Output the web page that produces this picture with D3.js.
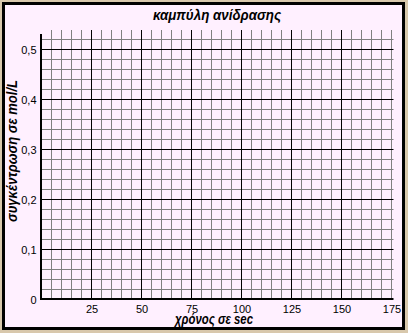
<!DOCTYPE html>
<head>
  <meta charset="utf-8">
  <script src="https://d3js.org/d3.v7.min.js"></script>
  <style>
    body { margin:0; background:#d8c8ac; }
    .tick text { font-family:"Liberation Sans", Arial, sans-serif; font-size:11px; fill:#000; }
    .lbl { font-family:"Liberation Sans", Arial, sans-serif; font-weight:bold; font-style:italic; fill:#000; }
  </style>
</head>
<body>
  <script>
    var width = 408,
        height = 333;

    // τιμές αξόνων
    var title = "καμπύλη ανίδρασης";
    var xTitle = "χρόνος σε sec";
    var yTitle = "συγκέντρωση σε mol/L";
    var xTicks = [25, 50, 75, 100, 125, 150, 175];
    var yTicks = [0, 0.1, 0.2, 0.3, 0.4, 0.5];
    var xMinor = [5, 10, 15, 20, 30, 35, 40, 45, 55, 60, 65, 70, 80, 85, 90, 95, 105, 110, 115, 120,
                  130, 135, 140, 145, 155, 160, 165, 170];
    var yMinor = [0.02, 0.04, 0.06, 0.08, 0.12, 0.14, 0.16, 0.18, 0.22, 0.24, 0.26, 0.28,
                  0.32, 0.34, 0.36, 0.38, 0.42, 0.44, 0.46, 0.48, 0.52];
    var xDomain = [0, 175];
    var yDomain = [0, 0.5];

    var svg = d3.select("body")
      .append("svg")
      .attr("width", width)
      .attr("height", height)
      .style("display", "block");

    // πλαίσιο
    svg.append("rect")
      .attr("x", 3.5).attr("y", 3.5)
      .attr("width", 400).attr("height", 325)
      .attr("fill", "#fff0ff")
      .attr("stroke", "#000")
      .attr("stroke-width", 3);

    var x = d3.scaleLinear().domain(xDomain).range([41.5, 391.5]);
    var y = d3.scaleLinear().domain(yDomain).range([299.5, 49.5]);

    var gridTop = 30, gridRight = 393.5;

    // δευτερεύον πλέγμα
    svg.append("g").selectAll("line").data(xMinor).enter().append("line")
      .attr("x1", d => x(d)).attr("x2", d => x(d))
      .attr("y1", gridTop).attr("y2", y(0))
      .attr("stroke", "#808080");
    svg.append("g").selectAll("line").data(yMinor).enter().append("line")
      .attr("x1", x(0)).attr("x2", gridRight)
      .attr("y1", d => y(d)).attr("y2", d => y(d))
      .attr("stroke", "#808080");

    // κύριο πλέγμα
    svg.append("g").selectAll("line").data(xTicks).enter().append("line")
      .attr("x1", d => x(d)).attr("x2", d => x(d))
      .attr("y1", gridTop).attr("y2", y(0))
      .attr("stroke", d => d == 175 ? "#808080" : "#000");
    svg.append("g").selectAll("line").data(yTicks.slice(1)).enter().append("line")
      .attr("x1", x(0)).attr("x2", gridRight)
      .attr("y1", d => y(d)).attr("y2", d => y(d))
      .attr("stroke", "#000");

    var fmt = d3.formatLocale({decimal: ",", thousands: ".", grouping: [3], currency: ["", "€"]});
    var yFmt = function(d) { return d == 0 ? "0" : fmt.format(".1f")(d); };

    // άξονες
    var xAxis = svg.append("g")
      .attr("transform", "translate(0," + (y(0) + 1) + ")")
      .call(d3.axisBottom(x).tickValues(xTicks).tickSize(0).tickPadding(5));
    xAxis.select(".domain").remove();

    var yAxis = svg.append("g")
      .attr("transform", "translate(" + (x(0) - 1) + ",0)")
      .call(d3.axisLeft(y).tickValues(yTicks).tickFormat(yFmt).tickSize(0).tickPadding(4));
    yAxis.select(".domain").remove();

    svg.append("line")
      .attr("x1", 41).attr("x2", 41)
      .attr("y1", 34).attr("y2", 300)
      .attr("stroke", "#000").attr("stroke-width", 2);
    svg.append("line")
      .attr("x1", 40).attr("x2", gridRight)
      .attr("y1", 299).attr("y2", 299)
      .attr("stroke", "#000").attr("stroke-width", 2);

    // τίτλοι
    svg.append("text").attr("class", "lbl")
      .attr("x", 153).attr("y", 20)
      .attr("textLength", 128).attr("lengthAdjust", "spacingAndGlyphs")
      .style("font-size", "14px")
      .text(title);

    svg.append("text").attr("class", "lbl")
      .attr("x", 175).attr("y", 324)
      .attr("textLength", 78).attr("lengthAdjust", "spacingAndGlyphs")
      .style("font-size", "14px")
      .text(xTitle);

    svg.append("text").attr("class", "lbl")
      .attr("transform", "translate(17,222) rotate(-90)")
      .attr("textLength", 142).attr("lengthAdjust", "spacingAndGlyphs")
      .style("font-size", "14px")
      .text(yTitle);
  </script>
</body>
